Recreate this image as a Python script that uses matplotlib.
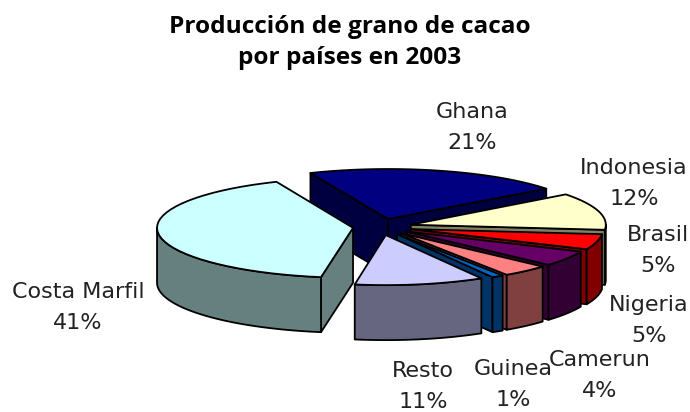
import numpy as np
import matplotlib
matplotlib.use("Agg")
import matplotlib.pyplot as plt
from matplotlib.patches import Polygon

# ─── DATA ────────────────────────────────────────────────
paises  = ["Ghana", "Indonesia", "Brasil", "Nigeria", "Camerun", "Guinea", "Resto", "Costa Marfil"]
valores = [21, 12, 5, 5, 4, 1, 11, 41]
titulo  = ["Producción de grano de cacao", "por países en 2003"]

# ─── STYLE ───────────────────────────────────────────────
top_col  = ["#000080", "#FFFFCC", "#FF0000", "#660066", "#FF8080", "#0066CC", "#CCCCFF", "#CCFFFF"]
side_col = ["#000040", "#808066", "#800000", "#330033", "#804040", "#003366", "#666680", "#668080"]
draw_order = [0, 1, 7, 2, 3, 4, 5, 6]
label_pos = [(472, 112), (634, 168), (658, 235), (649, 305),
             (600, 360), (513, 369), (423, 371), (78, 292)]

CX, CY = 380, 227      # pie centre in pixels
A, B   = 194, 50       # ellipse half axes
DEPTH  = 55
START  = -23.0         # degrees clockwise from top
# the picture has some perspective, so back slices look wider than front ones
radios  = [199, 195, 192, 190, 190, 190, 190, 196]
explode = [0.165, 0.165, 0.165, 0.165, 0.165, 0.165, 0.165, 0.14]

fig = plt.figure(figsize=(6.9, 4.12), dpi=100)
ax = fig.add_axes([0, 0, 1, 1])
ax.set_xlim(0, 690)
ax.set_ylim(412, 0)
ax.axis("off")


def arc(x0, y0, r, a1, a2, n=40):
    t = np.radians(np.linspace(a1, a2, n))
    return np.column_stack([x0 + r * np.sin(t), y0 - B * np.cos(t)])


def poly(pts, color):
    ax.add_patch(Polygon(pts, closed=True, fc=color, ec="black", lw=1.3, joinstyle="round"))


# ─── SLICES ──────────────────────────────────────────────
cum = START + np.concatenate([[0], np.cumsum(valores)]) * 3.6

for i in draw_order:
    a1, a2 = cum[i], cum[i + 1]
    r = radios[i]
    mid = np.radians((a1 + a2) / 2)
    tx = CX + explode[i] * A * np.sin(mid)
    ty = CY - explode[i] * B * np.cos(mid)
    down = np.array([0, DEPTH])
    tip = np.array([tx, ty])

    # radial walls, skip the ones facing away
    visible = [a for a, s in ((a1, -1), (a2, 1)) if s * np.sin(np.radians(a)) > 0]
    for ang in visible:
        end = arc(tx, ty, r, ang, ang, 1)[0]
        poly([tip, end, end + down, tip + down], side_col[i])

    # outer wall, only the part facing the viewer
    lo, hi = max(a1, 90), min(a2, 270)
    if hi > lo:
        rim = arc(tx, ty, r, lo, hi)
        poly(np.vstack([rim, (rim + down)[::-1]]), side_col[i])

    poly(np.vstack([[tip], arc(tx, ty, r, a1, a2)]), top_col[i])

# ─── TEXT ────────────────────────────────────────────────
for j, linea in enumerate(titulo):
    ax.text(350, 27 + 31 * j, linea, ha="center", va="center",
            fontsize=17.6, fontweight="bold", family="Open Sans")

for nombre, v, (x, y) in zip(paises, valores, label_pos):
    ax.text(x, y, nombre, ha="center", va="center", fontsize=16, family="DejaVu Sans", color="#222222")
    ax.text(x, y + 31, f"{v}%", ha="center", va="center", fontsize=16, family="DejaVu Sans", color="#222222")

fig.savefig("out.png", dpi=100)
